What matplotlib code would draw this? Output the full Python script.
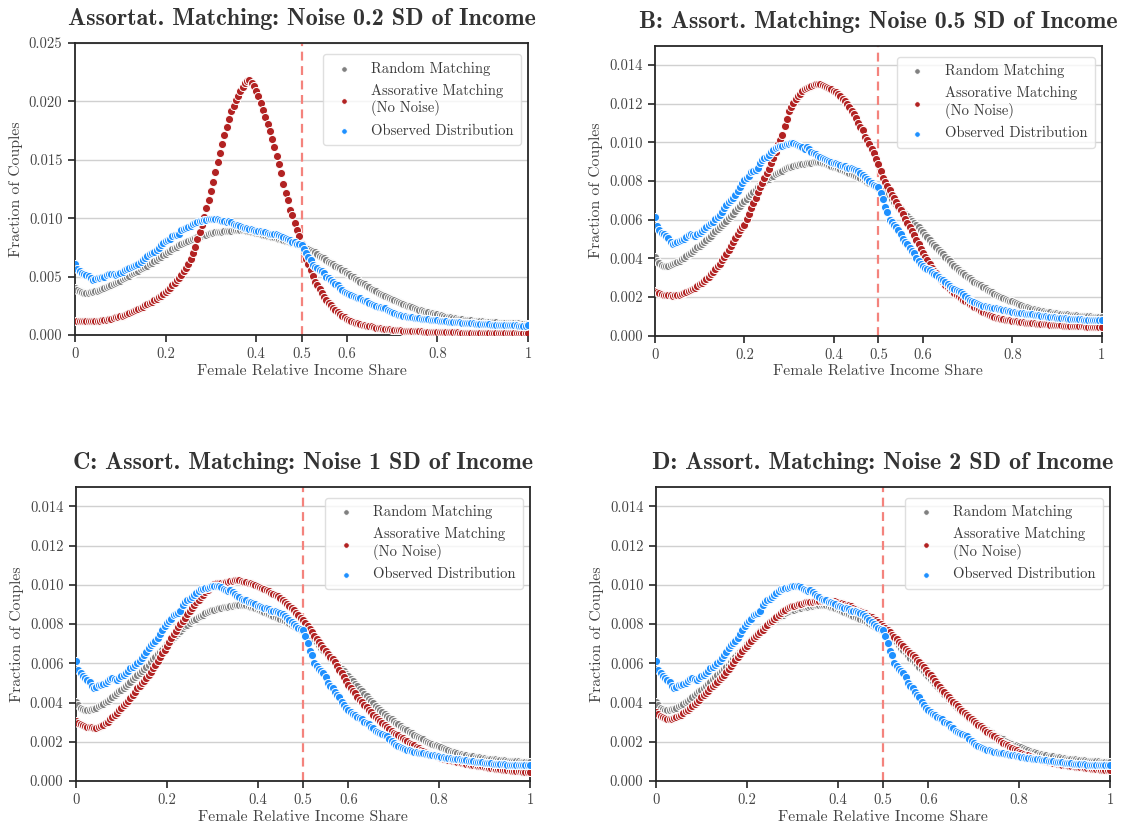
import numpy as np
import matplotlib
matplotlib.use("Agg")
import matplotlib.pyplot as plt

plt.rcParams['font.family'] = ['cmr10', 'DejaVu Serif']
plt.rcParams['axes.formatter.use_mathtext'] = True
plt.rcParams['mathtext.fontset'] = 'cm'

# ---------------- data (values in units of 1e-5) ----------------
x_share = [i / 200 for i in range(201)]

random_matching = [
405,385,374,367,363,362,362,365,369,374,380,387,395,402,410,420,430,439,448,457,
466,476,486,496,507,518,529,540,550,561,572,582,593,607,620,632,645,658,670,684,
697,708,720,733,745,756,767,778,788,797,805,813,820,828,836,842,848,854,860,865,
870,874,878,881,883,886,888,889,891,893,895,896,897,897,896,895,893,889,885,880,
875,870,865,860,855,850,845,840,835,830,825,820,815,809,803,797,790,784,778,772,
765,757,748,739,730,719,708,694,680,668,655,642,628,617,606,594,583,571,560,547,
535,521,508,495,482,470,458,445,433,420,408,396,384,373,362,352,342,332,323,314,
305,296,288,280,272,266,260,252,245,237,230,224,218,212,206,200,195,190,185,181,
177,172,168,163,158,154,150,146,143,140,137,134,132,129,127,125,123,121,120,118,
116,114,113,112,111,110,109,107,106,105,104,103,102,101,100,100,99,98,98,97,
96]

observed = [
612,567,548,533,524,515,503,486,472,480,487,491,495,500,510,521,524,520,516,525,
533,542,553,563,574,582,590,602,612,626,640,658,677,693,702,714,728,748,770,790,
805,815,826,845,852,858,866,895,911,920,926,936,950,960,970,977,980,983,986,989,
992,995,996,994,988,980,976,966,975,965,952,945,938,930,925,920,914,910,905,900,
894,891,888,884,880,876,868,866,866,863,858,850,840,830,822,812,800,792,782,775,
770,740,705,664,640,600,586,570,560,548,528,500,486,474,452,438,430,402,385,370,
362,352,344,338,328,320,314,302,295,288,276,268,256,248,244,238,232,228,214,203,
195,186,180,174,168,162,160,156,152,150,148,145,143,141,138,136,134,132,130,128,
125,122,120,118,117,115,113,112,111,110,108,107,106,104,103,101,99,97,96,95,
94,92,91,90,89,88,87,86,86,85,84,84,83,83,82,82,81,81,80,80,
82]

assort_02 = [
117,116,116,116,116,116,116,117,117,118,120,122,125,128,131,135,140,145,150,155,
160,166,173,181,188,195,202,212,222,233,243,253,263,274,286,298,310,324,338,354,
370,387,405,425,445,467,490,516,545,576,610,652,700,757,820,880,940,1010,1090,1160,
1230,1312,1392,1478,1554,1631,1715,1782,1848,1916,1960,2010,2050,2090,2125,2155,2172,2181,2155,2128,
2090,2045,1985,1925,1870,1805,1745,1675,1610,1535,1460,1385,1293,1220,1156,1070,1028,955,895,850,
780,720,650,605,555,507,458,425,390,357,325,298,278,255,231,212,194,180,165,150,
140,130,121,112,104,100,94,88,84,81,78,74,68,64,61,58,55,52,50,48,
47,45,43,41,39,37,36,35,34,33,32,31,30,30,29,29,28,28,27,27,
26,26,25,25,24,24,23,23,22,22,21,21,20,20,20,19,19,19,19,18,
18,18,18,18,17,17,17,17,17,17,17,17,17,17,17,17,17,17,17,17,
17]

assort_05 = [
233,226,219,215,212,210,209,208,207,208,210,213,216,220,224,229,234,239,246,256,
266,275,284,293,305,318,331,345,360,372,390,406,422,443,464,486,506,527,547,560,
575,604,632,660,688,712,745,770,792,815,840,862,895,920,950,990,1012,1040,1085,1120,
1160,1185,1205,1222,1238,1250,1268,1276,1282,1288,1293,1297,1300,1302,1300,1297,1292,1287,1282,1275,
1268,1260,1250,1240,1225,1212,1200,1182,1162,1145,1125,1102,1080,1062,1030,1012,990,965,945,915,
888,850,815,795,775,752,728,710,690,670,650,628,605,582,560,540,520,497,475,450,
430,408,390,370,352,335,322,306,290,276,260,250,240,230,222,212,203,195,187,180,
173,165,158,150,143,136,128,122,116,110,105,101,97,93,89,86,84,82,80,79,
77,76,74,72,70,69,68,67,66,65,64,63,62,61,60,59,58,57,56,55,
54,53,53,52,52,52,51,51,50,49,48,48,48,47,47,47,46,46,46,45,
45]

assort_1 = [
304,297,291,285,280,277,275,273,271,272,276,281,287,294,303,314,325,336,347,360,
372,385,397,410,424,440,456,472,485,500,512,527,542,558,574,591,610,631,650,670,
687,710,730,748,765,783,800,815,830,850,867,880,897,910,923,937,950,963,975,987,
996,1004,1007,1009,1009,1009,1012,1015,1017,1020,1022,1024,1025,1020,1016,1013,1010,1007,1005,1000,
996,991,985,979,972,966,960,955,949,942,933,922,912,903,894,882,870,858,846,832,
822,807,792,777,760,741,724,708,694,679,664,649,634,620,606,588,568,550,532,510,
490,476,460,446,430,415,402,388,375,362,350,338,326,315,305,296,286,276,266,256,
247,240,232,225,217,210,203,196,188,181,174,167,160,154,149,144,139,134,130,126,
122,118,114,111,108,106,104,101,98,95,92,90,88,86,84,82,80,78,76,74,
72,70,68,66,65,63,62,60,58,57,55,54,53,52,51,50,49,48,47,46,
46]

assort_2 = [
351,340,331,325,321,318,317,318,320,324,330,337,345,355,363,372,383,393,404,415,
426,438,449,461,473,484,495,507,519,530,541,555,571,586,602,617,633,648,662,676,
690,703,716,729,740,750,760,772,784,796,808,818,827,836,846,856,865,874,880,886,
890,894,897,900,904,909,912,913,914,914,915,917,919,919,919,919,919,918,917,915,
912,908,905,902,898,895,890,884,878,873,868,862,855,848,841,834,828,820,812,800,
790,781,769,758,746,735,723,710,698,686,675,663,652,640,631,618,607,593,580,566,
552,538,525,512,495,480,466,453,440,426,414,402,391,380,368,356,345,334,325,315,
305,296,287,278,270,261,252,244,236,228,220,211,203,196,188,181,175,168,162,156,
150,144,138,134,130,126,122,118,114,110,107,104,101,98,95,93,91,89,86,84,
82,80,78,76,74,73,72,70,69,67,66,65,63,62,61,59,58,57,56,55,
54]

titles = ["Assortat. Matching: Noise 0.2 SD of Income",
          "B: Assort. Matching: Noise 0.5 SD of Income",
          "C: Assort. Matching: Noise 1 SD of Income",
          "D: Assort. Matching: Noise 2 SD of Income"]
assort_series = [assort_02, assort_05, assort_1, assort_2]

x_ticks = [0, 0.2, 0.4, 0.5, 0.6, 0.8, 1]
x_ticklabels = ["0", "0.2", "0.4", "0.5", "0.6", "0.8", "1"]
y_ticks_a = [0, 0.005, 0.010, 0.015, 0.020, 0.025]
y_ticks_b = [0, 0.002, 0.004, 0.006, 0.008, 0.010, 0.012, 0.014]

labels = ["Random Matching", "Assorative Matching\n(No Noise)", "Observed Distribution"]
colors = ["#808080", "#b22222", "#1e90ff"]

# ---------------- layout ----------------
W, H = 1124, 831
fig = plt.figure(figsize=(W / 100, H / 100), dpi=100)

def rect(l, t, r, b):
    return [l / W, (H - b) / H, (r - l) / W, (b - t) / H]

rects = [rect(75, 43, 528, 335), rect(655, 45.7, 1101.7, 335.7),
         rect(76, 486.7, 530, 781), rect(656, 486.7, 1110, 781)]

text_c = "#333333"
xs = np.array(x_share)
for k in range(4):
    ax = fig.add_axes(rects[k])
    series = [random_matching, assort_series[k], observed]
    for lab, col, ser in zip(labels, colors, series):
        ax.scatter(xs, np.array(ser) * 1e-5, s=34, color=col, edgecolor="white",
                   linewidth=0.7, label=lab, zorder=3)
    ax.axvline(0.5, color="#f4837d", linestyle=(0, (4, 2.5)), linewidth=1.6, zorder=2)
    ax.set_xlim(0, 1)
    if k == 0:
        ax.set_ylim(0, 0.025)
        ax.set_yticks(y_ticks_a)
        ax.set_yticklabels([f"{v:.3f}" for v in y_ticks_a])
    else:
        ax.set_ylim(0, 0.015)
        ax.set_yticks(y_ticks_b)
        ax.set_yticklabels([f"{v:.3f}" for v in y_ticks_b])
    ax.set_xticks(x_ticks)
    ax.set_xticklabels(x_ticklabels)
    ax.yaxis.grid(True, color="#d0d0d0", linewidth=1.0, zorder=0)
    ax.set_axisbelow(True)
    for sp in ax.spines.values():
        sp.set_color("#262626")
        sp.set_linewidth(1.3)
    ax.tick_params(axis="both", direction="out", length=5, width=1.2, color="#262626",
                   labelsize=10.5, labelcolor="#444444", pad=4)
    ax.set_xlabel("Female Relative Income Share", fontsize=11.3, color="#444444", labelpad=2)
    ax.set_ylabel("Fraction of Couples", fontsize=11.3, color="#444444", labelpad=4)
    ax.set_title(titles[k], fontsize=17.3, fontfamily="cmb10", color=text_c, pad=13)
    pw = rects[k][2] * W
    ph = rects[k][3] * H
    leg = ax.legend(loc="upper right", fontsize=10.5, frameon=True, fancybox=True,
                    markerscale=0.7, handlelength=1.8, handletextpad=1.0, borderpad=0.5,
                    labelspacing=0.55, borderaxespad=0,
                    bbox_to_anchor=(1 - 7 / pw, 1 - 11 / ph))
    leg.get_frame().set_edgecolor("#d8d8d8")
    leg.get_frame().set_linewidth(1.0)
    for t in leg.get_texts():
        t.set_color("#3a3a3a")

fig.savefig("out.png", dpi=100)
